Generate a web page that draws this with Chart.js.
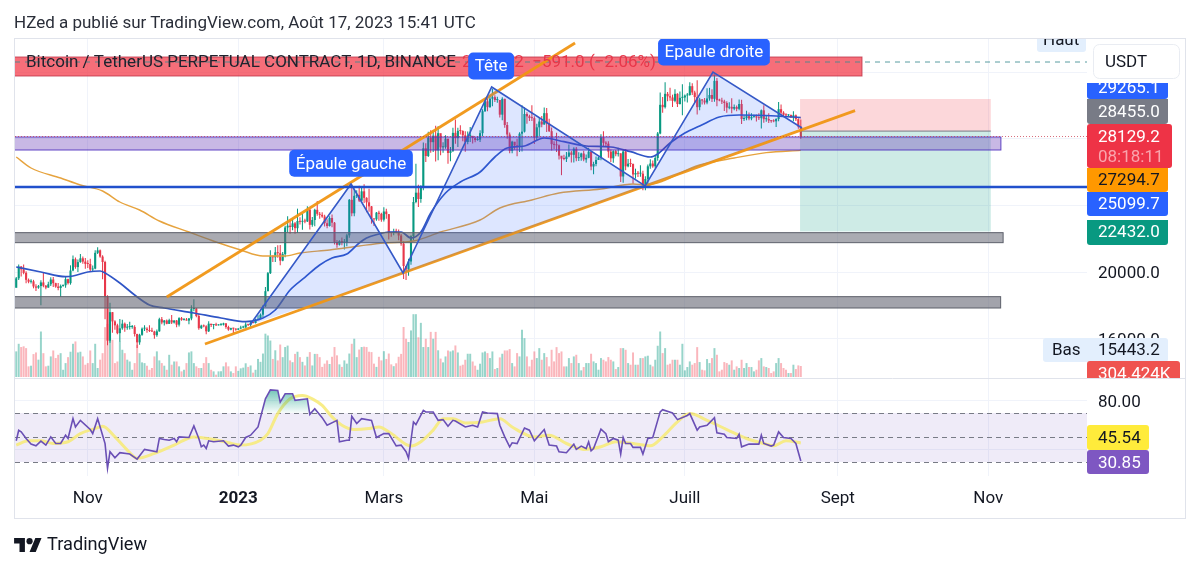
<!DOCTYPE html>
<html lang="fr">
<head>
<meta charset="utf-8">
<title>BTCUSDT.P 1D</title>
<script src="https://cdn.jsdelivr.net/npm/chart.js@4"></script>
<style>
  html, body { margin: 0; background: #fff; }
  #wrap { position: relative; width: 1200px; height: 567px; overflow: hidden; font-family: Roboto, sans-serif; color: #131722; }
  canvas { position: absolute; left: 0; top: 0; }
  #head { position: absolute; left: 14px; top: 12px; font-size: 17px; line-height: 20px; color: #2a2e39; white-space: nowrap; }
  #foot { position: absolute; left: 14px; top: 532px; height: 22px; display: flex; align-items: center; font-size: 18.2px; white-space: nowrap; }
  #foot svg { width: 28px; height: 17px; margin-right: 5px; }
</style>
</head>
<body>
<div id="wrap">
  <canvas id="chart" width="1200" height="567"></canvas>
  <div id="head">HZed a publié sur TradingView.com, Août 17, 2023 15:41 UTC</div>
  <div id="foot">
    <svg viewBox="0 0 36 22"><path fill="#131722" d="M14 22H7V11H0V4h14v18zM28 22h-8l7.5-18h8L28 22z"/><circle fill="#131722" cx="20" cy="8" r="4"/></svg>
    TradingView
  </div>
</div>
<script>
// day numbers count from 1 Jan 2023, first candle is 3 Oct 2022
const firstDay = -90;
const firstOpen = 19050;

const closes = [
  19620,20330,20160,19950,19530,19415,19440,19130,19060,19155,19375,19175,19065,19265,19550,19330,19125,19040,19165,19205,19570,19330,20090,20770,20295,20595,20820,20625,20490,
  20480,20150,20205,21150,21300,20925,20600,18540,15880,17590,17035,16800,16330,16620,16900,16660,16700,16700,16700,16280,15780,16230,16600,16600,16520,16460,16430,16210,16440,17165,
  16970,17090,16890,17110,16970,17090,16840,17230,17130,17130,17085,17210,17780,17815,17360,16630,16780,16740,16440,16900,16820,16830,16800,16830,16840,16920,16700,16545,16630,16600,16540,
  16610,16670,16670,16850,16830,16950,16940,17120,17180,17440,17940,18850,19930,20950,20880,21180,21130,20680,21070,22670,22780,22700,22920,22630,23060,23010,23070,23030,23740,22830,23120,
  23730,23490,23430,23330,22930,22760,23240,22960,21800,21630,21860,21780,21780,22200,24330,23520,24570,24630,24280,24840,24450,24180,23940,23190,23160,23560,23490,23140,
  23630,23470,22360,22350,22430,22410,22190,21700,20360,20150,20630,22150,24200,24760,24380,25050,27420,26960,28040,27790,28180,27300,28330,27480,27490,28000,27140,27270,28350,28030,28470,
  28460,28200,27800,28170,28170,28040,27920,27940,28330,29650,30240,29890,30400,30490,30320,30320,29440,30390,28820,28250,27270,27820,27590,27520,28300,28420,29480,29340,29240,29230,
  28070,28680,29030,28850,29530,28900,28450,27670,27630,27600,26980,26800,26780,26930,27170,27030,27400,26830,26890,27110,26750,26850,27220,26330,26480,26720,26870,28080,27750,27700,27220,
  26820,27250,27070,27120,25730,27230,26340,26500,26480,25850,25940,25900,25900,25130,25580,26340,26510,26340,26840,28310,30030,29890,30690,30540,30470,30270,30690,30080,30450,30470,
  30590,30620,31150,30770,30500,29890,30350,30290,30170,30410,30620,30390,31470,30310,30290,30230,30140,29860,29910,29800,29900,29790,30080,29180,29230,29350,29210,29310,29350,29270,29230,
  29700,29170,29180,29090,29050,29040,29180,29770,29560,29430,29400,29420,29280,29400,29170,28720,28129.2
];
const highs = [
  19700,20450,20360,20450,20050,19610,19560,19530,19260,19220,19500,19950,19220,19420,19680,19700,19350,19340,19250,19250,19700,19600,20400,20990,20870,20750,21080,20930,20840,
  20700,20800,20390,21300,21480,21350,21000,20670,18600,18150,17600,17100,16900,17180,17130,16970,16880,17010,16820,16810,16300,16300,16670,16800,16680,16800,16650,16480,16550,17250,
  17300,17120,17150,17200,17420,17100,17120,17290,17300,17230,17240,17240,18000,18370,17840,17510,16840,16850,16800,17050,16880,16870,16950,16860,16920,16950,16930,16780,16660,16650,16630,
  16630,16770,16780,16990,16870,17040,16980,17200,17400,17510,18000,19100,20000,21300,21000,21500,21600,21620,21200,22770,23350,23150,23200,23000,23800,23290,23500,23200,23950,23800,23300,
  23800,24260,23600,23580,23440,23170,23350,23450,23000,21920,21900,22070,21980,22300,24380,25250,25000,24900,25180,25100,25270,24480,25000,23960,23200,23600,23680,23560,
  23880,23800,23480,22420,22600,22590,22550,22280,21840,20350,20800,22200,24500,26500,25240,25200,27770,27730,28420,28500,28500,28770,28750,28200,27790,28200,27500,27500,28650,29150,28650,
  28800,28500,28450,28430,28700,28150,28100,28150,28500,29760,30430,30500,30600,31000,30600,30520,30310,30480,30400,29000,28370,27880,27800,28000,28380,30000,29880,29580,29440,30000,
  29340,28890,29250,29360,29870,29840,29200,28670,27840,28350,27650,26910,27030,27200,27650,27280,27480,27500,27180,27160,27270,27050,27450,27220,26620,26930,26930,28260,28450,27840,27840,
  27350,27300,27320,27450,27130,27370,27380,26780,26790,26510,26200,26060,26400,26070,25750,26450,26770,26690,26980,28400,30770,30500,31380,30800,31050,30640,30970,30720,30830,31270,
  30650,30740,31380,31320,30870,31500,30450,30380,30440,31020,31050,30970,31850,31640,30400,30450,30340,30240,30190,30420,30050,29990,30350,30330,29370,29680,29570,29530,29430,29450,29520,
  29750,30000,29420,29530,29120,29170,29220,30200,30050,29650,29520,29470,29450,29650,29450,29230,29150
];
const lows = [
  19100,19520,19730,19860,19330,19320,19310,19020,18860,19000,18000,19080,18970,19060,19160,19100,19060,18900,18500,19120,19050,19250,19240,20050,20200,20000,20550,20500,20200,
  20240,20050,20050,20170,21080,20850,19570,17170,15600,15760,16350,16530,16270,15820,16540,16420,16530,16550,16600,16130,15443.2,15630,16170,16460,16350,16400,16400,16000,16120,16420,
  16860,16790,16870,16880,16880,16910,16690,16730,17080,17090,17090,16870,17100,17650,17280,16530,16580,16690,16260,16400,16700,16570,16760,16790,16770,16790,16600,16480,16500,16340,16480,
  16520,16570,16630,16650,16760,16710,16920,16910,17130,17180,17300,17900,18850,19880,20600,20600,20850,20400,20650,20880,22370,22300,22500,22300,22350,22850,22530,22920,23000,22550,22720,
  22750,23380,23200,23260,22730,22630,22730,22680,21650,21450,21590,21610,21350,21550,22050,23340,23350,24440,24200,24160,24140,23590,23620,22900,22760,23080,23080,23020,
  23030,23200,21950,22110,22200,22320,21900,21580,19580,19520,19770,20440,21900,24120,23900,24150,24900,26600,26900,27150,27200,26630,26700,27000,27160,27400,26500,26650,27200,27700,27500,
  28250,27840,27220,27660,27800,27710,27780,27870,27800,28150,29600,29650,29850,29950,30200,30150,29270,29100,28650,28000,27130,27130,27330,26950,27200,27230,28370,28900,29060,29060,
  27680,27880,28130,28680,28830,28400,28400,27290,27380,27200,26750,25810,26700,26600,26880,26570,26570,26650,26660,26680,26650,26550,26830,26100,25870,26350,26720,26700,27550,27560,26860,
  26600,26550,26950,26930,25400,25360,26100,26290,26300,25300,25600,25700,25720,24900,24900,25160,26200,26250,26230,26670,28270,29560,29810,30240,30270,29900,30190,29900,30050,29400,
  30230,30170,30580,30620,30200,29450,29700,30050,30050,30060,30280,30200,30220,29950,30250,30080,29660,29550,29760,29520,29700,29640,29700,28880,29060,29100,29100,29110,29260,29030,29120,
  28610,28960,29010,28940,28960,28980,28700,29050,29350,29330,29340,29340,29240,29050,29060,28600,28000
];
// volume in thousands
const volumes = [
  710,920,830,850,800,295,313,635,680,480,1260,660,295,313,570,735,525,615,660,200,385,550,700,920,985,680,700,570,340,
  385,735,385,920,250,480,660,1380,1470,1030,1030,385,430,985,755,660,480,430,200,385,890,660,405,385,313,200,250,570,710,460,
  385,313,200,615,340,430,430,295,156,200,385,680,710,385,295,250,250,385,550,385,200,156,65,156,156,295,405,295,156,110,295,
  170,240,260,380,280,320,120,200,500,420,650,1200,1150,1010,500,740,460,900,550,830,870,460,410,640,700,550,420,320,560,690,320,
  640,640,550,280,370,460,360,560,830,600,350,280,460,370,650,920,1060,550,760,830,840,830,700,690,370,280,560,460,
  715,500,650,350,300,380,560,640,1385,1060,970,1290,1740,1740,1100,1500,830,1060,830,1250,1060,1250,740,510,405,570,736,708,736,874,680,
  313,340,478,644,644,430,313,200,368,680,708,662,524,708,220,250,543,644,736,736,773,386,294,662,570,1306,1076,570,294,478,
  708,524,800,478,662,552,294,754,432,828,662,708,294,294,524,386,570,616,386,184,276,386,386,644,432,386,202,524,478,432,552,
  478,432,220,276,800,800,754,386,340,680,340,340,524,524,570,590,340,294,478,865,1260,662,800,340,368,478,478,478,340,920,
  184,276,432,340,386,828,414,202,184,497,386,524,800,616,156,202,414,386,340,460,202,294,250,478,250,386,276,276,156,202,460,
  524,294,276,250,110,156,386,524,386,250,202,110,110,340,220,322,304.424
];

const blueDays = [-90,-80,-70,-67,-61,-56,-54,-48,-42,-36,-30,-18,-7,3,10,15,21,27,33,38,44,49,52,57,61,66,70,74,78,84,90,98,104,109,116,124,132,141,151,159,167,170,175,181,187,195,203,218,228];
const blueValues = [20300,20000,19720,19760,20000,20060,19940,19340,18620,18020,17840,17540,17240,17020,17240,17720,18920,19680,20420,20840,21080,21740,22040,22280,22400,22400,22040,22400,23540,24740,25400,26000,26900,27440,27560,28040,27820,27560,27500,27220,26900,27080,27740,28340,28760,29300,29420,29360,29265.1];
const orangeDays = [-90,-84,-72,-64,-55,-48,-40,-32,-20,-9,1,10,19,25,37,49,59,71,82,98,106,119,130,147,160,165,187,201,214,228];
const orangeValues = [26900,26240,25640,25220,24860,24200,23720,23060,22400,21800,21320,20960,20960,21140,21320,21560,21740,21860,22400,23120,23840,24320,24740,24980,25280,25220,26420,26840,27160,27294.7];

const rsiDays = [-90,-89,-88,-86,-84,-82,-80,-78,-76,-74,-72,-70,-69,-67,-66,-64,-60,-59,-57,-55,-54,-53,-52,-50,-48,-44,-41,-38,-33,-32,-30,-28,-26,-25,-24,-20,-18,-16,-15,-14,-13,-12,-10,-6,-4,-2,0,1,3,5,8,11,13,16,17,19,22,23,28,29,31,34,36,40,41,44,45,46,48,50,54,56,59,61,64,66,68,69,71,72,75,76,79,81,83,85,87,88,92,95,97,99,101,105,106,108,110,111,113,116,118,120,124,126,129,130,133,136,137,139,141,142,143,144,147,149,150,152,154,155,156,157,159,160,163,164,166,168,170,171,172,176,178,182,183,186,187,190,193,194,197,198,202,203,204,207,211,212,213,216,217,219,221,224,226,228];
const rsiValues = [47.3,55.9,54.6,49.2,44.6,43.2,47,43.8,50.5,45.1,45.1,51.9,49.2,65.4,58.6,64,56.5,53.2,65.4,51.9,45,24.9,38.4,33.5,37.6,36.5,32.4,40.3,38.4,49.2,48.4,47.8,49.2,46.5,50.5,50,59.5,49.2,42.4,43.8,41,47.3,46.5,47.3,43,43.8,42.4,43.8,50,51.9,58.6,81.6,88.9,88.4,78.9,85.7,85.7,80.3,81.6,68.9,73.5,66.2,60,64,46.5,47.8,47.8,67.3,61.4,65.4,64,50,53.2,53.2,43.2,43.8,38.4,33,62.7,60.5,72.2,70.8,70.8,64,64.6,59.2,64,63.5,58.6,60,58.6,70.8,70,69.5,60,50.5,42.4,45.7,45.1,57.8,56,47.3,56.5,43.8,43,38.4,37.6,44.6,40.3,43,41,46.5,39.2,41,56.8,53.2,46.5,49.2,47.8,36.5,50,45.1,45.1,41.9,41.9,36.5,49.2,50,64,70.8,72.7,70,64.6,68,69.5,56,58.6,60,66.2,53.8,52.7,50,49.2,52.7,42.4,44.6,44.6,51.9,45.1,43,43.8,54.6,50,49.2,45.1,30.85];
const rsiMaDays = [-90,-85,-80,-75,-69,-64,-58,-55,-50,-45,-41,-34,-26,-18,-10,-4,1,9,12,16,21,26,30,34,38,42,47,53,57,62,70,74,79,83,87,92,99,106,111,120,126,133,140,147,153,160,167,172,178,183,190,198,206,213,217,222,228];
const rsiMaValues = [43.8,47.3,47.3,45.1,46.5,53.2,57.3,59.2,50.5,39.7,33,37,43.8,50.5,48.4,45.7,43.8,47.8,53.2,69.5,81.6,84.3,81.6,76.2,66.8,60,56.5,57.3,58.6,53.2,43,46.5,56,65.4,65.4,61.9,62.7,65.4,58.6,50.5,51.9,45.1,40.3,42.4,46.5,45.1,43.2,50.5,62.7,69.5,64,56.5,49.2,45.1,43.2,47.3,45.54];

const tickDays = [-61,0,59,120,181,243,304];
const tickNames = ['Nov','2023','Mars','Mai','Juill','Sept','Nov'];
const priceTicks = [16000,20000,24000,28000,32000];
const rsiTicks = [40,80];

// chart drawings, anchored on day and price
const channelTop = {days: [-29,136.5], prices: [18500,33740]};
const channelBottom = {days: [-13.5,250], prices: [15680,29680]};
const patternDays = [4.7,45.7,66.8,102.7,164.9,192.4,228.5];
const patternPrices = [16820,25280,19940,31100,25160,32000,28640];
const zoneRed = [-91,252.8,31760,32900];
const zonePurple = [-91,309.1,27320,28100];
const zoneGrayHigh = [-91,310,21760,22360];
const zoneGrayLow = [-91,309,17840,18520];
const shortTrade = {from: 227.7, to: 305, stop: 30380, entry: 28455, target: 22432};
const supportLevel = 25099.7;
const highLevel = 32600;
const lastPrice = 28129.2;
const notes = [
  {text: 'Épaule gauche', day: 45.7, price: 26520},
  {text: 'Tête', day: 102.5, price: 32360},
  {text: 'Epaule droite', day: 192.8, price: 33200}
];

const bars = closes.map((c, i) => ({
  x: firstDay + i,
  open: i ? closes[i - 1] : firstOpen,
  close: c,
  high: highs[i],
  low: lows[i],
  vol: volumes[i]
}));
const line = (days, values) => days.map((d, i) => ({x: d, y: values[i]}));
const UP = '#089981', DOWN = '#e8374a';

function box(c, x, y, w, h, r, fill) {
  c.beginPath();
  c.roundRect(x, y, w, h, r);
  c.fillStyle = fill;
  c.fill();
}

function rect(c, X, Y, z, fill, stroke) {
  const x0 = X(z[0]), x1 = X(z[1]), y0 = Y(z[3]), y1 = Y(z[2]);
  c.fillStyle = fill;
  c.fillRect(x0, y0, x1 - x0, y1 - y0);
  if (stroke) {
    c.strokeStyle = stroke;
    c.lineWidth = 1;
    c.strokeRect(x0, y0, x1 - x0, y1 - y0);
  }
}

// band and dashed levels of the RSI pane
const rsiPane = {
  id: 'rsiPane',
  beforeDatasetsDraw(chart) {
    const c = chart.ctx, a = chart.chartArea, R = chart.scales.rsi;
    c.save();
    c.fillStyle = 'rgba(126,87,194,0.12)';
    c.fillRect(a.left, R.getPixelForValue(70), a.width, R.getPixelForValue(30) - R.getPixelForValue(70));
    c.strokeStyle = '#787b86';
    c.lineWidth = 1;
    c.setLineDash([5, 4]);
    [70, 50, 30].forEach(v => {
      const y = Math.round(R.getPixelForValue(v)) + 0.5;
      c.beginPath();
      c.moveTo(a.left, y);
      c.lineTo(a.right, y);
      c.stroke();
    });
    c.restore();
  }
};

// zones, trade box, pattern and trend lines on top of the candles
const drawings = {
  id: 'drawings',
  afterDatasetsDraw(chart) {
    const c = chart.ctx, a = chart.chartArea;
    const X = v => chart.scales.x.getPixelForValue(v), Y = v => chart.scales.price.getPixelForValue(v);
    c.save();
    c.beginPath();
    c.rect(a.left, a.top, a.width, Y(13640) - a.top);
    c.clip();

    rect(c, X, Y, zoneRed, 'rgba(242,54,69,0.72)', 'rgba(190,50,70,0.8)');

    c.setLineDash([5, 5]);
    c.strokeStyle = 'rgba(60,140,145,0.85)';
    c.lineWidth = 1;
    c.beginPath();
    c.moveTo(a.left, Y(highLevel));
    c.lineTo(a.right, Y(highLevel));
    c.stroke();
    c.setLineDash([]);

    rect(c, X, Y, [shortTrade.from, shortTrade.to, shortTrade.entry, shortTrade.stop], 'rgba(242,54,69,0.2)');
    rect(c, X, Y, [shortTrade.from, shortTrade.to, shortTrade.target, shortTrade.entry], 'rgba(8,153,129,0.2)');
    c.strokeStyle = '#787b86';
    c.lineWidth = 1;
    c.beginPath();
    c.moveTo(X(shortTrade.from), Y(shortTrade.entry));
    c.lineTo(X(shortTrade.to), Y(shortTrade.entry));
    c.stroke();

    rect(c, X, Y, zonePurple, 'rgba(103,58,183,0.36)', 'rgba(80,50,190,0.9)');
    rect(c, X, Y, zoneGrayHigh, 'rgba(100,102,115,0.55)', '#5d606b');
    rect(c, X, Y, zoneGrayLow, 'rgba(100,102,115,0.6)', '#5d606b');

    c.strokeStyle = 'rgba(240,150,20,0.95)';
    c.lineWidth = 2.8;
    [channelTop, channelBottom].forEach(t => {
      c.beginPath();
      c.moveTo(X(t.days[0]), Y(t.prices[0]));
      c.lineTo(X(t.days[1]), Y(t.prices[1]));
      c.stroke();
    });

    // head and shoulders, the bottom edge closes along the neck points
    c.beginPath();
    patternDays.forEach((d, i) => c.lineTo(X(d), Y(patternPrices[i])));
    c.lineTo(X(patternDays[4]), Y(patternPrices[4]));
    c.lineTo(X(patternDays[2]), Y(patternPrices[2]));
    c.closePath();
    c.fillStyle = 'rgba(41,98,255,0.16)';
    c.fill();
    c.beginPath();
    patternDays.forEach((d, i) => c.lineTo(X(d), Y(patternPrices[i])));
    c.strokeStyle = '#3559c7';
    c.lineWidth = 1.6;
    c.stroke();

    c.strokeStyle = '#2150cc';
    c.lineWidth = 2.5;
    c.beginPath();
    c.moveTo(a.left, Y(supportLevel));
    c.lineTo(a.right, Y(supportLevel));
    c.stroke();

    c.setLineDash([1, 2]);
    c.strokeStyle = 'rgba(200,50,70,0.7)';
    c.lineWidth = 1;
    c.beginPath();
    c.moveTo(a.left, Y(lastPrice));
    c.lineTo(a.right, Y(lastPrice));
    c.stroke();
    c.setLineDash([]);

    // symbol line
    c.textBaseline = 'middle';
    c.textAlign = 'left';
    c.font = '17px Roboto';
    c.fillStyle = '#20232e';
    c.fillText('Bitcoin / TetherUS PERPETUAL CONTRACT, 1D, BINANCE', 26, 63);
    c.fillStyle = '#e8374a';
    c.fillText('28129.2  −591.0 (−2.06%)', 462, 63);

    notes.forEach(n => {
      const w = c.measureText(n.text).width + 13;
      const cx = X(n.day), cy = Y(n.price);
      box(c, cx - w / 2, cy - 13.5, w, 27, 5, '#2962ff');
      c.fillStyle = '#fff';
      c.textAlign = 'center';
      c.fillText(n.text, cx, cy + 1);
    });
    c.restore();
  }
};

// price tags on the right hand axis and the outer frame
const axisTags = [
  {text: '29265.1', top: 83, bottom: 99, textY: 89, fill: '#2962ff', color: '#fff'},
  {text: '28455.0', top: 99, bottom: 124, textY: 113, fill: '#787b86', color: '#fff'},
  {text: '27294.7', top: 168, bottom: 192, textY: 181, fill: '#ff9800', color: '#131722'},
  {text: '25099.7', top: 192, bottom: 216, textY: 205, fill: '#2962ff', color: '#fff'},
  {text: '22432.0', top: 220, bottom: 245, textY: 233, fill: '#089981', color: '#fff'}
];
const overlay = {
  id: 'overlay',
  afterDraw(chart) {
    const c = chart.ctx;
    c.save();
    c.textBaseline = 'middle';
    c.textAlign = 'left';
    c.font = '17px Roboto';

    c.strokeStyle = '#e0e3eb';
    c.lineWidth = 1;
    c.strokeRect(14.5, 38.5, 1171, 480);
    c.beginPath();
    c.moveTo(15, 378.5);
    c.lineTo(1185, 378.5);
    c.stroke();

    // Haut tag is cut by the top of the pane
    c.save();
    c.beginPath();
    c.rect(1030, 39, 60, 20);
    c.clip();
    box(c, 1037, 30, 49, 22, 3, '#e3effd');
    c.fillStyle = '#131722';
    c.fillText('Haut', 1043, 41);
    c.restore();

    c.fillStyle = '#fff';
    box(c, 1093.5, 44.5, 86, 34, 6, '#fff');
    c.strokeStyle = '#e9ecf2';
    c.stroke();
    c.fillStyle = '#131722';
    c.fillText('USDT', 1105, 63);

    axisTags.forEach(t => {
      c.save();
      c.beginPath();
      c.rect(1087, t.top, 100, t.bottom - t.top);
      c.clip();
      box(c, 1087, t.top - 8, 81, t.bottom - t.top + 8, 3, t.fill);
      c.fillStyle = t.color;
      c.fillText(t.text, 1098, t.textY);
      c.restore();
    });

    box(c, 1087, 124, 85, 44, 3, '#ee3346');
    c.fillStyle = '#fff';
    c.fillText('28129.2', 1098, 137.5);
    c.fillStyle = '#f9a5ad';
    c.fillText('08:18:11', 1098, 157.5);

    box(c, 1043, 338, 125, 24, 3, '#e3effd');
    c.fillStyle = '#131722';
    c.fillText('Bas', 1052, 351);
    c.fillText('15443.2', 1098, 351);

    c.save();
    c.beginPath();
    c.rect(1087, 361, 100, 17);
    c.clip();
    box(c, 1087, 361, 93, 28, 3, '#ef5350');
    c.fillStyle = '#fff';
    c.fillText('304.424K', 1098, 375);
    c.restore();

    box(c, 1087, 425, 62, 25, 3, '#ffeb3b');
    c.fillStyle = '#131722';
    c.fillText('45.54', 1098, 439);
    box(c, 1087, 450, 62, 24, 3, '#7e57c2');
    c.fillStyle = '#fff';
    c.fillText('30.85', 1098, 463.5);
    c.restore();
  }
};

Chart.defaults.font.family = 'Roboto';
const canvas = document.getElementById('chart');
const glow = canvas.getContext('2d').createLinearGradient(0, 388, 0, 413);
glow.addColorStop(0, 'rgba(8,153,129,0.6)');
glow.addColorStop(1, 'rgba(8,153,129,0.03)');

new Chart(canvas, {
  type: 'bar',
  data: {
    datasets: [
      {
        yAxisID: 'volume',
        order: 6,
        grouped: false,
        categoryPercentage: 1,
        barPercentage: 0.8,
        data: bars.map(b => ({x: b.x, y: b.vol})),
        backgroundColor: bars.map(b => b.close >= b.open ? 'rgba(8,153,129,0.42)' : 'rgba(242,54,69,0.36)')
      },
      {
        yAxisID: 'price',
        order: 5,
        grouped: false,
        categoryPercentage: 1,
        barPercentage: 0.42,
        data: bars.map(b => ({x: b.x, y: [b.low, b.high]})),
        backgroundColor: bars.map(b => b.close >= b.open ? UP : DOWN)
      },
      {
        yAxisID: 'price',
        order: 4,
        grouped: false,
        categoryPercentage: 1,
        barPercentage: 0.85,
        minBarLength: 1,
        data: bars.map(b => ({x: b.x, y: [Math.min(b.open, b.close), Math.max(b.open, b.close)]})),
        backgroundColor: bars.map(b => b.close >= b.open ? UP : DOWN)
      },
      {
        type: 'line',
        yAxisID: 'price',
        order: 3,
        data: line(orangeDays, orangeValues),
        borderColor: '#e6a33e',
        borderWidth: 1.4,
        pointRadius: 0,
        cubicInterpolationMode: 'monotone'
      },
      {
        type: 'line',
        yAxisID: 'price',
        order: 2,
        data: line(blueDays, blueValues),
        borderColor: '#2f55c6',
        borderWidth: 1.7,
        pointRadius: 0,
        cubicInterpolationMode: 'monotone'
      },
      {
        type: 'line',
        yAxisID: 'rsi',
        order: 2,
        data: line(rsiMaDays, rsiMaValues),
        borderColor: 'rgba(247,234,120,0.88)',
        borderWidth: 3,
        pointRadius: 0,
        cubicInterpolationMode: 'monotone'
      },
      {
        type: 'line',
        yAxisID: 'rsi',
        order: 1,
        data: line(rsiDays, rsiValues),
        borderColor: '#6a4fb5',
        borderWidth: 1.6,
        pointRadius: 0,
        tension: 0,
        fill: {target: {value: 70}, above: glow, below: 'transparent'}
      }
    ]
  },
  options: {
    responsive: false,
    animation: false,
    events: [],
    layout: {padding: {left: 15, right: 15, top: 39, bottom: 49}},
    plugins: {legend: {display: false}, tooltip: {enabled: false}},
    scales: {
      x: {
        type: 'linear',
        offset: false,
        min: -90.5,
        max: 344,
        afterBuildTicks: s => { s.ticks = tickDays.map(v => ({value: v})); },
        afterFit: s => { s.height = 42; },
        grid: {color: '#f0f3fa', offset: false, drawTicks: false},
        border: {display: false},
        ticks: {
          autoSkip: false,
          maxRotation: 0,
          padding: 13,
          color: '#131722',
          callback: v => tickNames[tickDays.indexOf(v)],
          font: ctx => ({size: 17, weight: ctx.tick && ctx.tick.value === 0 ? 'bold' : 'normal'})
        }
      },
      price: {
        type: 'linear',
        position: 'right',
        stack: 'panes',
        stackWeight: 339,
        weight: 1,
        min: 13640,
        max: 33980,
        afterBuildTicks: s => { s.ticks = priceTicks.map(v => ({value: v})); },
        afterFit: s => { s.width = 98; },
        grid: {color: '#f0f3fa', drawTicks: false},
        border: {display: false},
        ticks: {padding: 11, labelOffset: 2, color: '#131722', font: {size: 17}, callback: v => v.toFixed(1)}
      },
      rsi: {
        type: 'linear',
        position: 'right',
        stack: 'panes',
        stackWeight: 98,
        weight: 2,
        min: 18.57,
        max: 98.57,
        afterBuildTicks: s => { s.ticks = rsiTicks.map(v => ({value: v})); },
        afterFit: s => { s.width = 98; },
        grid: {color: '#f0f3fa', drawTicks: false},
        border: {display: false},
        ticks: {padding: 11, labelOffset: 2, color: '#131722', font: {size: 17}, callback: v => v.toFixed(2)}
      },
      volume: {
        type: 'linear',
        display: false,
        min: -2742,
        max: 9362
      }
    }
  },
  plugins: [rsiPane, drawings, overlay]
});
</script>
</body>
</html>
